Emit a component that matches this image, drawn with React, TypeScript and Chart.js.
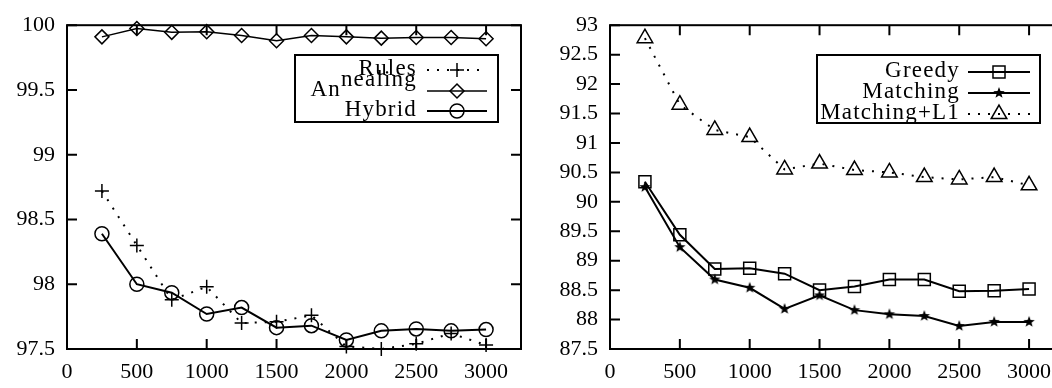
import React, { useEffect, useRef } from 'react';
import { Chart, registerables } from 'chart.js';

Chart.register(...registerables);

const FONT = "'Liberation Serif', 'Times New Roman', serif";

// ---------- data ----------
const xValues = [250, 500, 750, 1000, 1250, 1500, 1750, 2000, 2250, 2500, 2750, 3000];
const xTicks = [0, 500, 1000, 1500, 2000, 2500, 3000];
const xTickLabels = ['0', '500', '1000', '1500', '2000', '2500', '3000'];

const leftYTicks = [97.5, 98, 98.5, 99, 99.5, 100];
const leftYTickLabels = ['97.5', '98', '98.5', '99', '99.5', '100'];
const rightYTicks = [87.5, 88, 88.5, 89, 89.5, 90, 90.5, 91, 91.5, 92, 92.5, 93];
const rightYTickLabels = ['87.5', '88', '88.5', '89', '89.5', '90', '90.5', '91', '91.5', '92', '92.5', '93'];

const rulesValues = [98.72, 98.3, 97.88, 97.98, 97.7, 97.71, 97.76, 97.52, 97.5, 97.54, 97.62, 97.53];
const annealingValues = [99.91, 99.975, 99.945, 99.95, 99.92, 99.88, 99.92, 99.91, 99.9, 99.905, 99.905, 99.895];
const hybridValues = [98.39, 98.0, 97.935, 97.77, 97.82, 97.665, 97.68, 97.57, 97.64, 97.655, 97.64, 97.65];

const greedyValues = [90.34, 89.44, 88.86, 88.87, 88.78, 88.5, 88.56, 88.68, 88.68, 88.48, 88.49, 88.52];
const matchingValues = [90.25, 89.23, 88.68, 88.54, 88.18, 88.41, 88.16, 88.09, 88.06, 87.89, 87.96, 87.96];
const matchingL1Values = [92.78, 91.65, 91.22, 91.1, 90.55, 90.65, 90.54, 90.5, 90.42, 90.38, 90.42, 90.28];

const leftLabels = ['Rules', 'Annealing', 'Hybrid'];
const rightLabels = ['Greedy', 'Matching', 'Matching+L1'];
// legend typesetting glitch of the original: "An" + raised "nealing"
const annealingParts: [string, number][] = [['An', 0], ['nealing', -10]];

// ---------- helpers ----------
const toPoints = (ys: number[]) => ys.map((y, i) => ({ x: xValues[i], y }));

function makeStar(): HTMLCanvasElement {
  const c = document.createElement('canvas');
  c.width = 14;
  c.height = 14;
  const ctx = c.getContext('2d')!;
  ctx.fillStyle = '#000';
  ctx.beginPath();
  for (let i = 0; i < 10; i++) {
    const r = i % 2 === 0 ? 6 : 2.5;
    const a = -Math.PI / 2 + (i * Math.PI) / 5;
    const px = 7 + r * Math.cos(a);
    const py = 7 + r * Math.sin(a);
    if (i === 0) ctx.moveTo(px, py);
    else ctx.lineTo(px, py);
  }
  ctx.closePath();
  ctx.fill();
  return c;
}

function drawMarker(ctx: CanvasRenderingContext2D, style: any, r: number, x: number, y: number, lw: number) {
  ctx.save();
  ctx.setLineDash([]);
  ctx.lineWidth = lw;
  ctx.strokeStyle = '#000';
  if (typeof style !== 'string') {
    ctx.drawImage(style, x - style.width / 2, y - style.height / 2);
    ctx.restore();
    return;
  }
  ctx.beginPath();
  switch (style) {
    case 'circle':
      ctx.arc(x, y, r, 0, Math.PI * 2);
      break;
    case 'rect': {
      const s = r * Math.SQRT1_2;
      ctx.rect(x - s, y - s, 2 * s, 2 * s);
      break;
    }
    case 'rectRot':
      ctx.moveTo(x - r, y);
      ctx.lineTo(x, y - r);
      ctx.lineTo(x + r, y);
      ctx.lineTo(x, y + r);
      ctx.closePath();
      break;
    case 'triangle': {
      let a = 0;
      ctx.moveTo(x + Math.sin(a) * r, y - Math.cos(a) * r);
      a += (2 * Math.PI) / 3;
      ctx.lineTo(x + Math.sin(a) * r, y - Math.cos(a) * r);
      a += (2 * Math.PI) / 3;
      ctx.lineTo(x + Math.sin(a) * r, y - Math.cos(a) * r);
      ctx.closePath();
      break;
    }
    case 'cross':
      ctx.moveTo(x, y - r);
      ctx.lineTo(x, y + r);
      ctx.moveTo(x - r, y);
      ctx.lineTo(x + r, y);
      break;
  }
  ctx.stroke();
  ctx.restore();
}

const gnuFrame = {
  id: 'gnuFrame',
  beforeDatasetsDraw(chart: any) {
    const { ctx, chartArea: a, scales } = chart;
    const TL = 10;
    ctx.save();
    ctx.strokeStyle = '#000';
    ctx.lineWidth = 2;
    ctx.setLineDash([]);
    ctx.strokeRect(a.left, a.top, a.right - a.left, a.bottom - a.top);
    ctx.beginPath();
    scales.x.ticks.forEach((t: any) => {
      const px = scales.x.getPixelForValue(t.value);
      ctx.moveTo(px, a.bottom);
      ctx.lineTo(px, a.bottom - TL);
      ctx.moveTo(px, a.top);
      ctx.lineTo(px, a.top + TL);
    });
    scales.y.ticks.forEach((t: any) => {
      const py = scales.y.getPixelForValue(t.value);
      ctx.moveTo(a.left, py);
      ctx.lineTo(a.left + TL, py);
      ctx.moveTo(a.right, py);
      ctx.lineTo(a.right - TL, py);
    });
    ctx.stroke();
    ctx.restore();
  },
};

const gnuLegend = {
  id: 'gnuLegend',
  afterDraw(chart: any, _args: any, opts: any) {
    const ctx: any = chart.ctx;
    const ox = opts.offsetX;
    const [bx0, by0, bx1, by1] = opts.box;
    ctx.save();
    ctx.lineWidth = 2;
    ctx.strokeStyle = '#000';
    ctx.setLineDash([]);
    ctx.strokeRect(bx0 - ox, by0, bx1 - bx0, by1 - by0);
    ctx.font = `${opts.fontSize}px ${FONT}`;
    ctx.letterSpacing = opts.letterSpacing;
    ctx.fillStyle = '#000';
    ctx.textAlign = 'left';
    ctx.textBaseline = 'alphabetic';
    chart.data.datasets.forEach((ds: any, i: number) => {
      const y = opts.rows[i];
      const baseline = y + 5;
      const parts: [string, number][] = opts.splits && opts.splits[ds.label] ? opts.splits[ds.label] : [[ds.label, 0]];
      let xr = opts.textRight - ox;
      for (let k = parts.length - 1; k >= 0; k--) {
        const [t, dy] = parts[k];
        const w = ctx.measureText(t).width;
        xr -= w;
        ctx.fillText(t, xr, baseline + dy);
      }
      ctx.save();
      ctx.lineWidth = ds.borderWidth;
      ctx.setLineDash(ds.borderDash || []);
      ctx.beginPath();
      ctx.moveTo(opts.sample[0] - ox, y);
      ctx.lineTo(opts.sample[1] - ox, y);
      ctx.stroke();
      ctx.restore();
      drawMarker(ctx, ds.pointStyle, ds.pointRadius, (opts.sample[0] + opts.sample[1]) / 2 - ox, y, ds.pointBorderWidth);
    });
    ctx.restore();
  },
};

function dataset(label: string, values: number[], style: any, radius: number, width: number, dashed: boolean) {
  return {
    label,
    data: toPoints(values),
    borderColor: '#000',
    borderWidth: width,
    borderDash: dashed ? [2, 8] : [],
    borderCapStyle: 'butt',
    pointStyle: style,
    pointRadius: radius,
    pointHoverRadius: radius,
    pointBorderWidth: 1.5,
    pointBorderColor: '#000',
    pointBackgroundColor: 'rgba(0,0,0,0)',
    tension: 0,
    clip: false,
    fill: false,
  };
}

function makeConfig(datasets: any[], yTicks: number[], yLabels: string[], legend: any) {
  return {
    type: 'line',
    data: { datasets },
    plugins: [gnuFrame, gnuLegend],
    options: {
      animation: false,
      responsive: false,
      maintainAspectRatio: false,
      events: [],
      layout: { padding: { top: 17, right: 19, left: 0, bottom: 0 } },
      plugins: {
        legend: { display: false },
        tooltip: { enabled: false },
        gnuLegend: legend,
      },
      scales: {
        x: {
          type: 'linear',
          min: 0,
          max: 3250,
          grid: { display: false, drawTicks: false },
          border: { display: false },
          afterBuildTicks: (s: any) => {
            s.ticks = xTicks.map((v) => ({ value: v }));
          },
          afterFit: (s: any) => {
            s.height = 39;
          },
          ticks: {
            color: '#000',
            font: { family: FONT, size: 22 },
            padding: 10,
            autoSkip: false,
            maxRotation: 0,
            callback: (v: number) => xTickLabels[xTicks.indexOf(v)],
          },
        },
        y: {
          type: 'linear',
          min: yTicks[0],
          max: yTicks[yTicks.length - 1],
          grid: { display: false, drawTicks: false },
          border: { display: false },
          afterBuildTicks: (s: any) => {
            s.ticks = yTicks.map((v) => ({ value: v }));
          },
          afterFit: (s: any) => {
            s.width = 67;
          },
          ticks: {
            color: '#000',
            font: { family: FONT, size: 22 },
            padding: 12,
            autoSkip: false,
            callback: (v: number) => yLabels[yTicks.indexOf(v)],
          },
        },
      },
    },
  };
}

export default function App() {
  const leftRef = useRef<HTMLCanvasElement>(null);
  const rightRef = useRef<HTMLCanvasElement>(null);

  useEffect(() => {
    const star = makeStar();
    const leftCfg: any = makeConfig(
      [
        dataset(leftLabels[0], rulesValues, 'cross', 7, 2, true),
        dataset(leftLabels[1], annealingValues, 'rectRot', 7, 1.5, false),
        dataset(leftLabels[2], hybridValues, 'circle', 7, 2, false),
      ],
      leftYTicks,
      leftYTickLabels,
      {
        offsetX: 0,
        box: [295, 55, 498, 122],
        rows: [70, 91, 111],
        textRight: 417,
        sample: [427, 487],
        fontSize: 23,
        letterSpacing: '1.2px',
        splits: { Annealing: annealingParts },
      }
    );
    const rightCfg: any = makeConfig(
      [
        dataset(rightLabels[0], greedyValues, 'rect', 8.5, 2, false),
        dataset(rightLabels[1], matchingValues, star, 5, 2, false),
        dataset(rightLabels[2], matchingL1Values, 'triangle', 9, 2, true),
      ],
      rightYTicks,
      rightYTickLabels,
      {
        offsetX: 543,
        box: [817, 55, 1040, 123],
        rows: [72, 93, 114],
        textRight: 960,
        sample: [968, 1030],
        fontSize: 23,
        letterSpacing: '1.2px',
      }
    );
    const c1 = new Chart(leftRef.current!, leftCfg);
    const c2 = new Chart(rightRef.current!, rightCfg);
    return () => {
      c1.destroy();
      c2.destroy();
    };
  }, []);

  return (
    <div
      style={{
        position: 'fixed',
        left: 0,
        top: 0,
        width: 1052,
        height: 388,
        overflow: 'hidden',
        background: '#fff',
      }}
    >
      <canvas ref={leftRef} width={540} height={388} style={{ position: 'absolute', left: 0, top: 0 }} />
      <canvas ref={rightRef} width={540} height={388} style={{ position: 'absolute', left: 543, top: 0 }} />
    </div>
  );
}
